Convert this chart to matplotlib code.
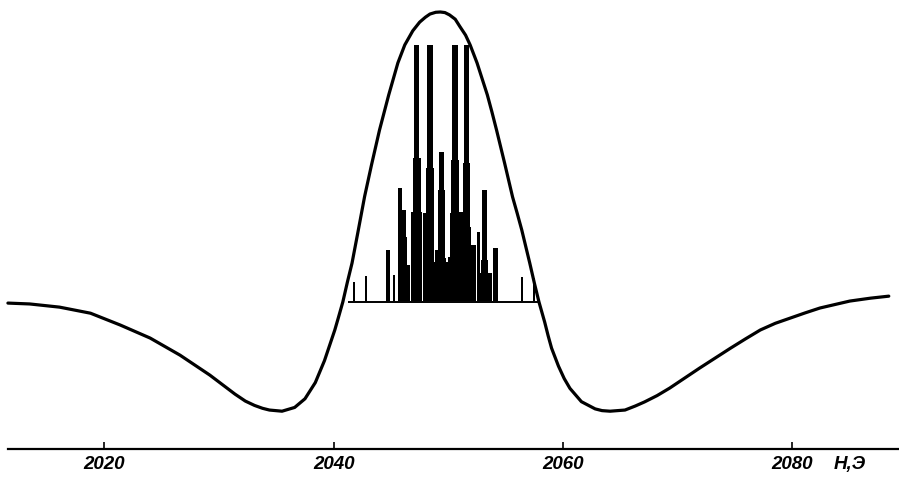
import matplotlib
matplotlib.use("Agg")
import matplotlib.pyplot as plt

# ---- data ----
# Field H (Oe) and signal (relative units, peak = 1) of the envelope curve
curve_H = [2011.6, 2013.5, 2016.1, 2018.8, 2021.4, 2024.0, 2026.6, 2029.2, 2030.5,
           2031.4, 2032.3, 2033.1, 2033.8, 2034.4, 2035.5, 2036.6, 2037.5, 2038.4,
           2039.2, 2040.1, 2040.4, 2040.8, 2041.2, 2041.6, 2042.1, 2042.7, 2043.3,
           2044.0, 2044.8, 2045.6, 2046.2, 2046.9, 2047.5, 2048.0, 2048.4, 2048.9,
           2049.3, 2049.7, 2050.1, 2050.6, 2051.0, 2051.5, 2051.9, 2052.5, 2053.4,
           2053.8, 2054.2, 2054.9, 2055.6, 2056.0, 2056.4, 2057.1, 2057.5, 2057.9,
           2058.4, 2058.7, 2059.0, 2059.6, 2060.1, 2060.6, 2061.6, 2062.8, 2063.4,
           2064.1, 2065.4, 2066.3, 2067.1, 2068.2, 2069.3, 2071.9, 2074.6, 2075.9,
           2077.2, 2078.5, 2079.8, 2081.1, 2082.4, 2085.0, 2086.8, 2088.4]
curve_S = [-0.007, -0.010, -0.021, -0.042, -0.083, -0.128, -0.187, -0.256, -0.295,
           -0.322, -0.346, -0.361, -0.371, -0.377, -0.381, -0.368, -0.338, -0.282,
           -0.206, -0.100, -0.059, -0.003, 0.066, 0.131, 0.235, 0.362, 0.471,
           0.592, 0.713, 0.824, 0.886, 0.935, 0.965, 0.982, 0.993, 0.999,
           1.000, 0.998, 0.990, 0.975, 0.950, 0.920, 0.886, 0.824, 0.713,
           0.654, 0.592, 0.478, 0.360, 0.304, 0.246, 0.131, 0.062, -0.003,
           -0.073, -0.120, -0.163, -0.225, -0.268, -0.302, -0.348, -0.373, -0.379,
           -0.381, -0.377, -0.363, -0.349, -0.327, -0.301, -0.232, -0.163, -0.131,
           -0.100, -0.077, -0.059, -0.041, -0.024, 0.000, 0.010, 0.017]

# Stick spectrum: line positions (Oe) and heights (same relative units)
stick_H = [2041.77, 2042.82, 2044.73, 2045.26, 2045.78, 2046.04, 2046.30,
           2047.22, 2047.26, 2047.26, 2047.96, 2048.40, 2048.40, 2048.74,
           2048.96, 2049.40, 2049.40, 2049.40, 2050.10, 2050.58, 2050.58,
           2050.58, 2051.06, 2051.58, 2051.58, 2051.58, 2052.10, 2052.62,
           2053.15, 2053.15, 2053.63, 2054.11, 2056.42, 2057.46,
           2046.13, 2048.90, 2051.30, 2053.05]
stick_S = [0.066, 0.087, 0.176, 0.090, 0.391, 0.315, 0.221,
           0.886, 0.495, 0.308, 0.304, 0.886, 0.460, 0.131,
           0.176, 0.516, 0.384, 0.149, 0.152, 0.886, 0.488,
           0.304, 0.308, 0.886, 0.478, 0.256, 0.166, 0.239,
           0.384, 0.142, 0.097, 0.183, 0.083, 0.080,
           0.125, 0.135, 0.195, 0.097]
# widths of the drawn sticks (style), in Oe
stick_width = [0.16, 0.16, 0.32, 0.20, 0.32, 0.50, 0.22,
               0.44, 0.75, 0.95, 0.32, 0.48, 0.68, 0.40,
               0.32, 0.38, 0.68, 0.85, 0.32, 0.48, 0.68,
               0.95, 0.50, 0.48, 0.68, 0.85, 0.50, 0.32,
               0.40, 0.68, 0.32, 0.40, 0.16, 0.16,
               1.00, 2.20, 2.20, 1.10]

tick_values = [2020, 2040, 2060, 2080]
tick_labels = ["2020", "2040", "2060", "2080"]
x_unit_label = "H,Э"

# ---- figure ----
fig = plt.figure(figsize=(8.99, 4.80), dpi=100)
ax = fig.add_axes([0, 0, 1, 1])
ax.set_xlim(2010.91, 2089.29)
ax.set_ylim(-0.619, 1.0415)

ax.plot(curve_H, curve_S, color="black", lw=2.3, solid_capstyle="round",
        solid_joinstyle="round")

ax.bar(stick_H, stick_S, width=stick_width, bottom=0, color="black",
       edgecolor="none", align="center")
ax.hlines(-0.003, min(stick_H) - 0.55, max(stick_H) + 0.5, color="black", lw=1.4)

# axis
for s in ["left", "right", "top"]:
    ax.spines[s].set_visible(False)
ax.spines["bottom"].set_position(("data", -0.512))
ax.spines["bottom"].set_bounds(2011.6, 2089.3)
ax.spines["bottom"].set_linewidth(1.6)
ax.set_yticks([])
ax.set_xticks(tick_values)
ax.set_xticklabels(tick_labels)
ax.tick_params(axis="x", direction="in", length=5, width=1.2, pad=5)
for lab in ax.get_xticklabels():
    lab.set_fontfamily("Liberation Sans")
    lab.set_fontstyle("italic")
    lab.set_fontweight("bold")
    lab.set_fontsize(13.5)

ax.text(2085.0, -0.537, x_unit_label, ha="center", va="top", fontsize=13.5,
        fontstyle="italic", fontweight="bold", family="Liberation Sans")

fig.savefig("out.png", dpi=100)
